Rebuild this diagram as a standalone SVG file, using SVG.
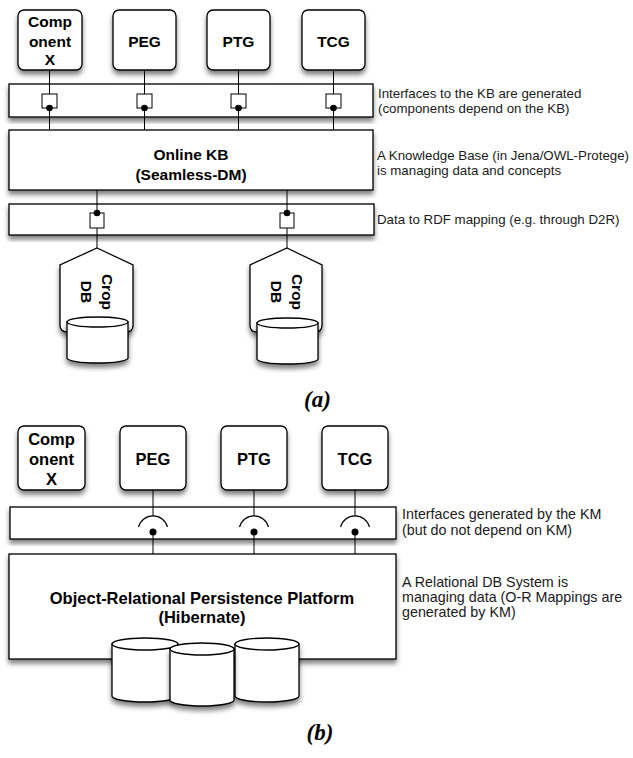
<svg xmlns="http://www.w3.org/2000/svg" width="633" height="758" viewBox="0 0 633 758">
  <defs>
    <filter id="shadow" x="-10%" y="-10%" width="120%" height="130%">
      <feDropShadow dx="0" dy="4" stdDeviation="2.5" flood-color="#000" flood-opacity="0.5"/>
    </filter>
    <style>
      .box { fill: #fff; stroke: #000; stroke-width: 1.3; filter: url(#shadow); }
      .port { fill: #fff; stroke: #000; stroke-width: 1; }
      .dot { fill: #000; }
      .sock { fill: none; stroke: #000; stroke-width: 1.2; }
      .wire { stroke: #000; stroke-width: 1; fill: none; }
      .lbl { font-family: "Liberation Sans", Arial, Helvetica, sans-serif; font-weight: bold; text-anchor: middle; fill: #000; }
      .a { font-size: 15.5px; }
      .b { font-size: 16.5px; }
      .note { font-family: "Liberation Sans", Arial, Helvetica, sans-serif; fill: #1a1a1a; }
      .na { font-size: 13.3px; }
      .nb { font-size: 14.3px; }
      .cap { font-family: "Liberation Serif", "Times New Roman", serif; font-weight: bold; font-style: italic; font-size: 23px; text-anchor: middle; fill: #000; }
    </style>
  </defs>

  <!-- ===================== (a) Online KB architecture ===================== -->
  <g id="a-compX">
    <rect class="box" x="18" y="10" width="64" height="60" rx="6"/>
    <text class="lbl a" x="50" y="27">Comp</text>
    <text class="lbl a" x="50" y="46.5">onent</text>
    <text class="lbl a" x="50" y="65">X</text>
  </g>
  <g id="a-peg">
    <rect class="box" x="113" y="10" width="63" height="60" rx="6"/>
    <text class="lbl a" x="144.5" y="46.5">PEG</text>
  </g>
  <g id="a-ptg">
    <rect class="box" x="207" y="10" width="63" height="60" rx="6"/>
    <text class="lbl a" x="238.5" y="46.5">PTG</text>
  </g>
  <g id="a-tcg">
    <rect class="box" x="302" y="10" width="63" height="60" rx="6"/>
    <text class="lbl a" x="333.5" y="46.5">TCG</text>
  </g>

  <g id="a-interfaces">
    <rect class="box" x="9" y="84" width="364" height="33"/>
    <rect class="port" x="42" y="94" width="15" height="14"/>
    <rect class="port" x="137" y="94" width="15" height="14"/>
    <rect class="port" x="231" y="94" width="15" height="14"/>
    <rect class="port" x="326" y="94" width="15" height="14"/>
    <circle class="dot" cx="49.5" cy="108" r="3.3"/>
    <circle class="dot" cx="144.5" cy="108" r="3.3"/>
    <circle class="dot" cx="238.5" cy="108" r="3.3"/>
    <circle class="dot" cx="333.5" cy="108" r="3.3"/>
  </g>

  <g id="a-kb">
    <rect class="box" x="9" y="130" width="364" height="60"/>
    <text class="lbl a" x="191" y="160">Online KB</text>
    <text class="lbl a" x="191" y="180">(Seamless-DM)</text>
  </g>

  <g id="a-mapping">
    <rect class="box" x="9" y="204" width="365" height="31"/>
    <rect class="port" x="90" y="213" width="14" height="15"/>
    <rect class="port" x="280" y="213" width="14" height="15"/>
    <circle class="dot" cx="97" cy="213" r="3.3"/>
    <circle class="dot" cx="287" cy="213" r="3.3"/>
  </g>

  <g id="a-cropdb1">
    <path class="box" d="M97,248 L133,265 L133,325 Q133,332 126,332 L68,332 Q60,332 60,325 L60,265 Z"/>
    <g filter="url(#shadow)">
      <path d="M67,322 L67,358 A30.5,5 0 0 0 128,358 L128,322 Z" fill="#fff" stroke="#000" stroke-width="1.3"/>
    </g>
    <ellipse cx="97.5" cy="322" rx="30.5" ry="5" fill="#fff" stroke="#000" stroke-width="1.3"/>
    <g transform="translate(97,292) rotate(90)">
      <text class="lbl a" x="0" y="-4.5">Crop</text>
      <text class="lbl a" x="0" y="16.5">DB</text>
    </g>
  </g>

  <g id="a-cropdb2">
    <path class="box" d="M287,248 L322,265 L322,325 Q322,332 315,332 L257,332 Q250,332 250,325 L250,265 Z"/>
    <g filter="url(#shadow)">
      <path d="M257,323 L257,359 A30.5,5 0 0 0 318,359 L318,323 Z" fill="#fff" stroke="#000" stroke-width="1.3"/>
    </g>
    <ellipse cx="287.5" cy="323" rx="30.5" ry="5" fill="#fff" stroke="#000" stroke-width="1.3"/>
    <g transform="translate(287,292) rotate(90)">
      <text class="lbl a" x="0" y="-4.5">Crop</text>
      <text class="lbl a" x="0" y="16.5">DB</text>
    </g>
  </g>

  <g id="a-connectors">
    <line class="wire" x1="49.5" y1="70" x2="49.5" y2="94"/>
    <line class="wire" x1="144.5" y1="70" x2="144.5" y2="94"/>
    <line class="wire" x1="238.5" y1="70" x2="238.5" y2="94"/>
    <line class="wire" x1="333.5" y1="70" x2="333.5" y2="94"/>
    <line class="wire" x1="49.5" y1="108" x2="49.5" y2="130"/>
    <line class="wire" x1="144.5" y1="108" x2="144.5" y2="130"/>
    <line class="wire" x1="238.5" y1="108" x2="238.5" y2="130"/>
    <line class="wire" x1="333.5" y1="108" x2="333.5" y2="130"/>
    <line class="wire" x1="97" y1="190" x2="97" y2="213"/>
    <line class="wire" x1="287" y1="190" x2="287" y2="213"/>
    <line class="wire" x1="97" y1="228" x2="97" y2="248"/>
    <line class="wire" x1="287" y1="228" x2="287" y2="248"/>
  </g>

  <g id="a-notes" class="note na">
    <text x="378" y="97.5">Interfaces to the KB are generated</text>
    <text x="378" y="112.5">(components depend on the KB)</text>
    <text x="377" y="160">A Knowledge Base (in Jena/OWL-Protege)</text>
    <text x="377" y="175">is managing data and concepts</text>
    <text x="377" y="224">Data to RDF mapping (e.g. through D2R)</text>
  </g>

  <text class="cap" x="317.5" y="407">(a)</text>

  <!-- ===================== (b) Persistence platform architecture ===================== -->
  <g id="b-compX">
    <rect class="box" x="18" y="426" width="67" height="64" rx="6"/>
    <text class="lbl b" x="51.5" y="445">Comp</text>
    <text class="lbl b" x="51.5" y="465">onent</text>
    <text class="lbl b" x="51.5" y="485">X</text>
  </g>
  <g id="b-peg">
    <rect class="box" x="120" y="426" width="66" height="64" rx="6"/>
    <text class="lbl b" x="153" y="465">PEG</text>
  </g>
  <g id="b-ptg">
    <rect class="box" x="221" y="426" width="66" height="64" rx="6"/>
    <text class="lbl b" x="254" y="465">PTG</text>
  </g>
  <g id="b-tcg">
    <rect class="box" x="322" y="426" width="66" height="64" rx="6"/>
    <text class="lbl b" x="355" y="465">TCG</text>
  </g>

  <g id="b-interfaces">
    <rect class="box" x="10" y="507" width="386" height="32"/>
    <path class="sock" d="M138.5,527 A15,15 0 0 1 167.5,527"/>
    <path class="sock" d="M239.5,527 A15,15 0 0 1 268.5,527"/>
    <path class="sock" d="M340.5,527 A15,15 0 0 1 369.5,527"/>
    <circle class="dot" cx="153" cy="532" r="3.5"/>
    <circle class="dot" cx="254" cy="532" r="3.5"/>
    <circle class="dot" cx="355" cy="532" r="3.5"/>
  </g>

  <g id="b-platform">
    <rect class="box" x="9" y="554" width="387" height="105"/>
    <text class="lbl b" x="202" y="604">Object-Relational Persistence Platform</text>
    <text class="lbl b" x="202" y="623">(Hibernate)</text>
  </g>

  <g id="b-databases">
    <g filter="url(#shadow)">
      <path d="M112,644 L112,696 A33,6 0 0 0 178,696 L178,644 Z" fill="#fff" stroke="#000" stroke-width="1.3"/>
    </g>
    <ellipse cx="145" cy="644" rx="33" ry="6" fill="#fff" stroke="#000" stroke-width="1.3"/>
    <g filter="url(#shadow)">
      <path d="M235,644 L235,696 A32,6 0 0 0 299,696 L299,644 Z" fill="#fff" stroke="#000" stroke-width="1.3"/>
    </g>
    <ellipse cx="267" cy="644" rx="32" ry="6" fill="#fff" stroke="#000" stroke-width="1.3"/>
    <g filter="url(#shadow)">
      <path d="M170,649 L170,700 A32,6 0 0 0 234,700 L234,649 Z" fill="#fff" stroke="#000" stroke-width="1.3"/>
    </g>
    <ellipse cx="202" cy="649" rx="32" ry="6" fill="#fff" stroke="#000" stroke-width="1.3"/>
  </g>

  <g id="b-connectors">
    <line class="wire" x1="153" y1="490" x2="153" y2="516"/>
    <line class="wire" x1="254" y1="490" x2="254" y2="516"/>
    <line class="wire" x1="355" y1="490" x2="355" y2="516"/>
    <line class="wire" x1="153" y1="532" x2="153" y2="554"/>
    <line class="wire" x1="254" y1="532" x2="254" y2="554"/>
    <line class="wire" x1="355" y1="532" x2="355" y2="554"/>
  </g>

  <g id="b-notes" class="note nb">
    <text x="402" y="519">Interfaces generated by the KM</text>
    <text x="402" y="535">(but do not depend on KM)</text>
    <text x="402" y="587">A Relational DB System is</text>
    <text x="402" y="602">managing data (O-R Mappings are</text>
    <text x="402" y="617">generated by KM)</text>
  </g>

  <text class="cap" x="320" y="740">(b)</text>
</svg>
